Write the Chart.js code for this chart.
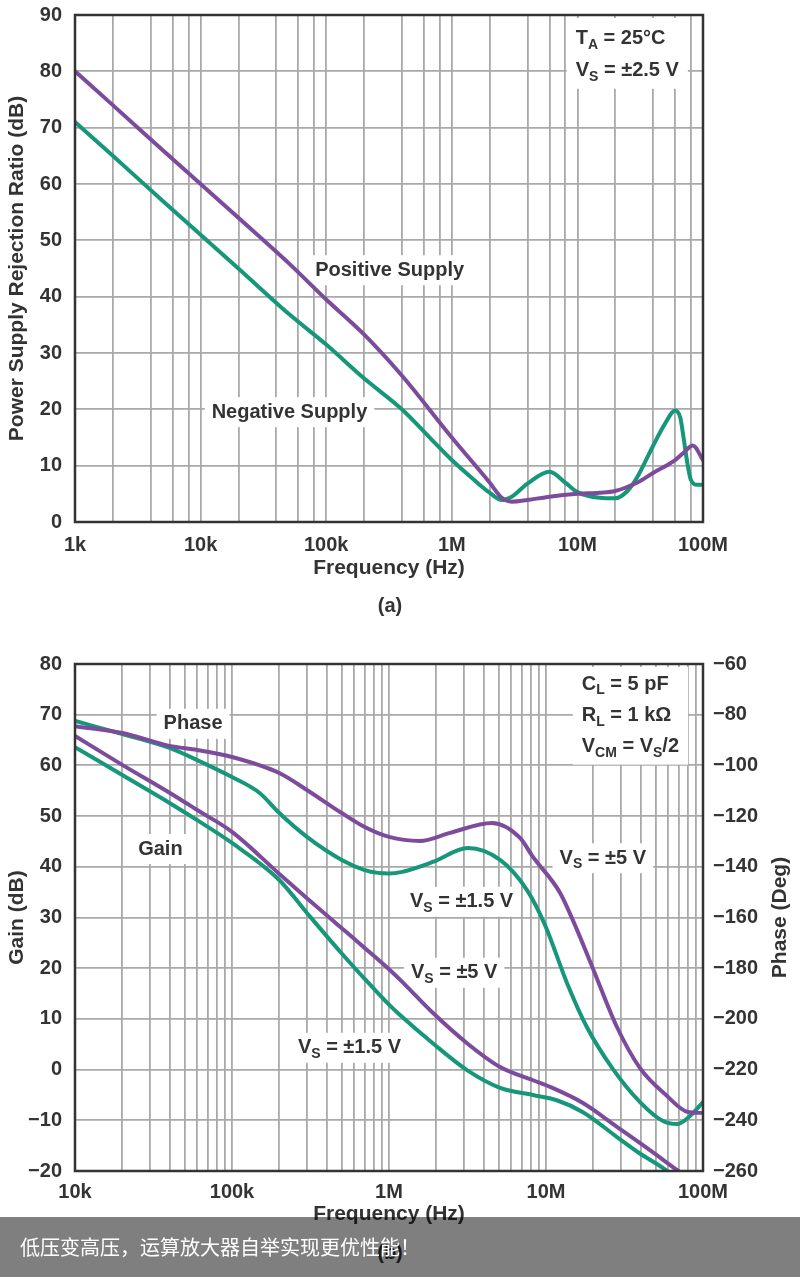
<!DOCTYPE html>
<html>
<head>
<meta charset="utf-8">
<script src="https://cdn.jsdelivr.net/npm/chart.js@4.4.1/dist/chart.umd.min.js"></script>
<style>
  body { margin: 0; background: #fff; width: 800px; height: 1277px; position: relative; overflow: hidden; }
  canvas { position: absolute; left: 0; }
  #psrr-chart { top: 0; }
  #bode-chart { top: 630px; }
  .caption { position: absolute; width: 800px; left: -10px; text-align: center; font: bold 20px 'Liberation Sans', Arial, sans-serif; color: #333; }
  #banner { position: absolute; left: 0; top: 1217px; width: 800px; height: 60px; background: rgba(0, 0, 0, 0.5);
            color: #fff; font: 20px 'Noto Sans CJK SC', sans-serif; line-height: 60px; padding-left: 20px; box-sizing: border-box; }
</style>
</head>
<body>
<canvas id="psrr-chart" width="800" height="600"></canvas>
<div class="caption" style="top: 594px;">(a)</div>
<canvas id="bode-chart" width="800" height="600"></canvas>
<div class="caption" style="top: 1241px;">(b)</div>
<div id="banner">低压变高压，运算放大器自举实现更优性能！</div>

<script>
// ---- (a) PSRR vs frequency ----
const posFreq = [1e3, 2e3, 5e3, 1e4, 2e4, 5e4, 1e5, 2e5, 4e5, 1e6, 2e6, 2.5e6, 3e6, 4e6, 6e6, 1e7, 1.5e7, 2e7, 3e7, 4e7, 6e7, 7e7, 8.3e7, 1e8];
const posPsrr = [80, 74, 66, 60, 54, 46, 39.5, 33.3, 26, 15, 7, 4.3, 3.6, 3.9, 4.5, 5, 5.2, 5.5, 7, 8.7, 11, 12.3, 13.6, 11];
const negFreq = [1e3, 2e3, 5e3, 1e4, 2e4, 5e4, 1e5, 2e5, 4e5, 7e5, 1e6, 1.5e6, 2e6, 2.5e6, 3e6, 4e6, 6e6, 8e6, 1e7, 1.5e7, 2e7, 2.5e7, 3e7, 4e7, 5e7, 6e7, 6.6e7, 7e7, 7.5e7, 8e7, 9e7, 1e8];
const negPsrr = [71, 65, 57, 51, 45, 37, 31.5, 25.5, 20, 14.5, 11, 7.5, 5.2, 3.9, 4.5, 6.8, 8.9, 7, 5.3, 4.3, 4.2, 5.5, 8, 13.5, 17.5, 19.8, 18.5, 15, 10.5, 7.5, 6.6, 6.6];
const psrrGrid = [1e3, 2e3, 4e3, 6e3, 8e3, 1e4, 2e4, 4e4, 6e4, 8e4, 1e5, 2e5, 4e5, 6e5, 8e5,
                  1e6, 2e6, 4e6, 6e6, 8e6, 1e7, 2e7, 4e7, 6e7, 8e7, 1e8];

// ---- (b) gain / phase vs frequency ----
const gain5Freq = [1e4, 2e4, 4e4, 6e4, 1e5, 2e5, 3e5, 5e5, 7e5, 1e6, 1.17e6, 1.9e6, 3.14e6, 5.1e6, 8.26e6, 1.06e7, 1.72e7, 2.83e7, 4.59e7, 6.82e7, 1e8];
const gain5 = [65.8, 60.1, 54.6, 51.2, 46.9, 38.6, 33.8, 27.9, 24, 19.8, 17.8, 11.2, 5.2, 0.5, -2.1, -3.4, -6.6, -11.3, -15.9, -19.8, -23.5];
const gain15Freq = [1e4, 2e4, 4e4, 6e4, 1e5, 2e5, 3e5, 5e5, 7e5, 1e6, 1.17e6, 1.9e6, 3.14e6, 5.1e6, 8.26e6, 1.16e7, 1.72e7, 2.83e7, 3.9e7, 5.8e7, 1e8];
const gain15 = [63.6, 58.1, 52.6, 49.2, 44.7, 37.4, 30.9, 22.9, 17.9, 12.8, 10.8, 5.2, -0.1, -3.6, -5, -6, -8.4, -13.3, -16.4, -19.8, -26];
const phase5Freq = [1e4, 2e4, 4e4, 6e4, 1e5, 2e5, 3e5, 5e5, 7e5, 1e6, 1.57e6, 2.45e6, 4.53e6, 6.83e6, 8.26e6, 1.23e7, 1.53e7, 1.96e7, 2.83e7, 3.97e7, 5.9e7, 8e7, 1e8];
const phase5 = [-84.5, -87.2, -92.3, -93.9, -96.7, -103, -109.7, -118.8, -124.3, -128.2, -129.8, -126.6, -122.7, -128.6, -136.1, -150.3, -163, -179.1, -203.2, -219.4, -230.4, -236.7, -237.1];
const phase15Freq = [1e4, 2e4, 4e4, 6e4, 1e5, 1.5e5, 2e5, 3e5, 5e5, 7e5, 8.5e5, 1e6, 1.19e6, 1.9e6, 3.18e6, 5.1e6, 7.57e6, 9.86e6, 1.36e7, 1.82e7, 2.67e7, 3.97e7, 5.56e7, 6.83e7, 8.26e7, 1e8];
const phase15 = [-82.5, -87.6, -93.1, -97.9, -104.6, -110.9, -118.8, -128.2, -137.3, -141.3, -142.4, -142.6, -142.1, -138.1, -132.6, -137.3, -149.2, -163, -185.8, -203.2, -219.8, -232.8, -240.3, -241.5, -238.3, -232.8];
const bodeGrid = [1e4, 2e4, 3e4, 4e4, 5e4, 6e4, 7e4, 8e4, 9e4,
                  1e5, 2e5, 3e5, 4e5, 5e5, 6e5, 7e5, 8e5, 9e5,
                  1e6, 2e6, 3e6, 4e6, 5e6, 6e6, 7e6, 8e6, 9e6,
                  1e7, 2e7, 3e7, 4e7, 5e7, 6e7, 7e7, 8e7, 9e7, 1e8];

const freqTicks = [1e3, 1e4, 1e5, 1e6, 1e7, 1e8];
const freqTickLabels = ['1k', '10k', '100k', '1M', '10M', '100M'];

const PURPLE = '#7d4b9b';
const GREEN = '#17977a';
const GRID = '#a9a9a9';
const FRAME = '#333';
const TEXT = '#333';
const FAMILY = "'Liberation Sans', Arial, sans-serif";

function points(xs, ys) {
    return xs.map((x, i) => ({ x: x, y: ys[i] }));
}

function freqLabel(v) {
    const i = freqTicks.indexOf(v);
    return i >= 0 ? freqTickLabels[i] : '';
}

function minusLabel(v) {
    return v < 0 ? '\u2212' + Math.abs(v) : '' + v;
}

function line(label, xs, ys, color, axis) {
    return {
        label: label,
        data: points(xs, ys),
        borderColor: color,
        borderWidth: 4,
        pointRadius: 0,
        cubicInterpolationMode: 'monotone',
        borderCapStyle: 'round',
        yAxisID: axis || 'y'
    };
}

// draws "V" + sub "S" + " = ±5 V" style text, returns width
function richText(ctx, parts, x, y, measureOnly) {
    let cx = x;
    parts.forEach(p => {
        const sub = Array.isArray(p);
        const txt = sub ? p[0] : p;
        ctx.font = sub ? 'bold 14px ' + FAMILY : 'bold 20px ' + FAMILY;
        if (!measureOnly) ctx.fillText(txt, cx, sub ? y + 6 : y);
        cx += ctx.measureText(txt).width;
    });
    return cx - x;
}

const chartText = {
    id: 'chartText',
    beforeDatasetsDraw(chart, args, opts) {
        const ctx = chart.ctx;
        const area = chart.chartArea;
        const xs = chart.scales.x;
        const ys = chart.scales.y;
        ctx.save();
        ctx.textBaseline = 'middle';
        // centred labels with white boxes
        (opts.labels || []).forEach(l => {
            const w = richText(ctx, l.text, 0, 0, true);
            const cx = xs.getPixelForValue(l.x);
            const cy = ys.getPixelForValue(l.y);
            ctx.fillStyle = '#fff';
            ctx.fillRect(cx - w / 2 - 7, cy - 15, w + 14, 30);
            ctx.fillStyle = TEXT;
            richText(ctx, l.text, cx - w / 2, cy);
        });
        // condition block, left aligned
        if (opts.block) {
            const b = opts.block;
            const left = xs.getPixelForValue(b.x);
            const rows = b.rows.map(r => ys.getPixelForValue(r.y));
            let w = 0;
            b.rows.forEach(r => { w = Math.max(w, richText(ctx, r.text, 0, 0, true)); });
            ctx.fillStyle = '#fff';
            ctx.fillRect(left - 9, area.top + 3, w + 18, rows[rows.length - 1] - area.top + 15);
            ctx.fillStyle = TEXT;
            b.rows.forEach((r, i) => richText(ctx, r.text, left, rows[i]));
        }
        ctx.restore();
    },
    afterDraw(chart, args, opts) {
        const ctx = chart.ctx;
        const area = chart.chartArea;
        ctx.save();
        // frame
        ctx.strokeStyle = FRAME;
        ctx.lineWidth = 2.5;
        ctx.strokeRect(area.left, area.top, area.right - area.left, area.bottom - area.top);
        // right-hand title read bottom to top
        if (opts.rightTitle) {
            ctx.fillStyle = TEXT;
            ctx.textBaseline = 'middle';
            ctx.font = 'bold 21px ' + FAMILY;
            ctx.textAlign = 'center';
            ctx.translate(780, (area.top + area.bottom) / 2);
            ctx.rotate(-Math.PI / 2);
            ctx.fillText(opts.rightTitle, 0, 0);
        }
        ctx.restore();
    }
};

const tickFont = { family: FAMILY, size: 20, weight: 'bold' };
const titleFont = { family: FAMILY, size: 21, weight: 'bold' };

function noPadding(s) {
    s.paddingTop = 0;
    s.paddingBottom = 0;
    s.paddingLeft = 0;
    s.paddingRight = 0;
}

function freqAxis(min, max, grid, height, tickPad, titlePad) {
    return {
        type: 'logarithmic',
        min: min,
        max: max,
        afterBuildTicks: s => { s.ticks = grid.map(v => ({ value: v })); },
        afterFit: s => { s.height = height; noPadding(s); },
        ticks: { autoSkip: false, maxRotation: 0, padding: tickPad, color: TEXT, font: tickFont, callback: freqLabel },
        grid: { color: GRID, lineWidth: 1.8, drawTicks: false },
        border: { display: false },
        title: { display: true, text: 'Frequency (Hz)', color: TEXT, font: titleFont, padding: { top: 0, bottom: titlePad } }
    };
}

function valueAxis(min, max, step, width, pad, title) {
    return {
        min: min,
        max: max,
        afterFit: s => { s.width = width; noPadding(s); },
        ticks: { stepSize: step, padding: pad, color: TEXT, font: tickFont, callback: minusLabel },
        grid: { color: GRID, lineWidth: 1.8, drawTicks: false },
        border: { display: false },
        title: { display: !!title, text: title, color: TEXT, font: titleFont, padding: { top: 5, bottom: 0 } }
    };
}

const psrrChart = new Chart(document.getElementById('psrr-chart'), {
    type: 'line',
    data: {
        datasets: [
            line('Positive Supply', posFreq, posPsrr, PURPLE),
            line('Negative Supply', negFreq, negPsrr, GREEN)
        ]
    },
    options: {
        responsive: false,
        animation: false,
        layout: { padding: { top: 15, right: 97, left: 0, bottom: 0 } },
        plugins: {
            legend: { display: false },
            tooltip: { enabled: false },
            chartText: {
                labels: [
                    { text: ['Positive Supply'], x: 3.2e5, y: 44.7 },
                    { text: ['Negative Supply'], x: 5.1e4, y: 19.5 }
                ],
                block: {
                    x: 9.7e6,
                    rows: [
                        { text: ['T', ['A'], ' = 25°C'], y: 85.8 },
                        { text: ['V', ['S'], ' = ±2.5 V'], y: 80.1 }
                    ]
                }
            }
        },
        scales: {
            x: freqAxis(1e3, 1e8, psrrGrid, 78, 11, 19),
            y: valueAxis(0, 90, 10, 75, 13, 'Power Supply Rejection Ratio (dB)')
        }
    },
    plugins: [chartText]
});

const phaseAxis = valueAxis(-260, -60, 20, 97, 10, '');
phaseAxis.position = 'right';
phaseAxis.grid = { display: false, drawTicks: false };

const bodeChart = new Chart(document.getElementById('bode-chart'), {
    type: 'line',
    data: {
        datasets: [
            line('Phase VS = ±5 V', phase5Freq, phase5, PURPLE, 'y2'),
            line('Phase VS = ±1.5 V', phase15Freq, phase15, GREEN, 'y2'),
            line('Gain VS = ±5 V', gain5Freq, gain5, PURPLE),
            line('Gain VS = ±1.5 V', gain15Freq, gain15, GREEN)
        ]
    },
    options: {
        responsive: false,
        animation: false,
        layout: { padding: { top: 34, right: 0, left: 0, bottom: 0 } },
        plugins: {
            legend: { display: false },
            tooltip: { enabled: false },
            chartText: {
                labels: [
                    { text: ['Phase'], x: 5.65e4, y: 68.2 },
                    { text: ['Gain'], x: 3.5e4, y: 43.5 },
                    { text: ['V', ['S'], ' = ±1.5 V'], x: 2.9e6, y: 33.1 },
                    { text: ['V', ['S'], ' = ±5 V'], x: 2.3e7, y: 41.7 },
                    { text: ['V', ['S'], ' = ±5 V'], x: 2.6e6, y: 19.1 },
                    { text: ['V', ['S'], ' = ±1.5 V'], x: 5.6e5, y: 4.3 }
                ],
                block: {
                    x: 1.69e7,
                    rows: [
                        { text: ['C', ['L'], ' = 5 pF'], y: 76 },
                        { text: ['R', ['L'], ' = 1 kΩ'], y: 69.8 },
                        { text: ['V', ['CM'], ' = V', ['S'], '/2'], y: 63.7 }
                    ]
                },
                rightTitle: 'Phase (Deg)'
            }
        },
        scales: {
            x: freqAxis(1e4, 1e8, bodeGrid, 59, 9, 3),
            y: valueAxis(-20, 80, 10, 75, 13, 'Gain (dB)'),
            y2: phaseAxis
        }
    },
    plugins: [chartText]
});
</script>
</body>
</html>
